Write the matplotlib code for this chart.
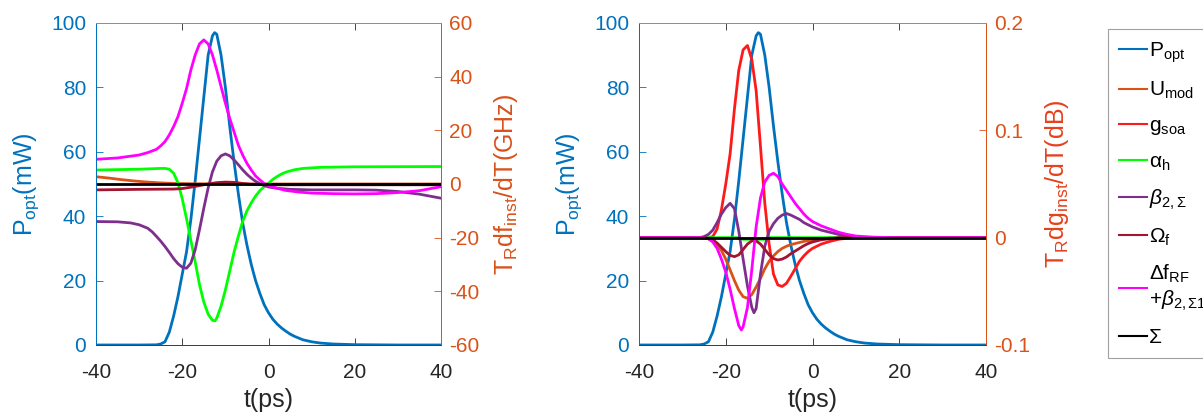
import matplotlib
matplotlib.use('Agg')
import matplotlib.pyplot as plt

plt.rcParams['font.family'] = ['Liberation Sans', 'DejaVu Sans']
plt.rcParams['mathtext.fontset'] = 'custom'
plt.rcParams['mathtext.rm'] = 'Liberation Sans'
plt.rcParams['mathtext.it'] = 'Liberation Sans:italic'
plt.rcParams['mathtext.bf'] = 'Liberation Sans:bold'
plt.rcParams['mathtext.sf'] = 'Liberation Sans'
plt.rcParams['axes.unicode_minus'] = False

# ---------------- data ----------------
# optical pulse power (mW), shared by both panels
t_p = [-40, -30, -26, -25, -24, -23, -22, -21, -20, -19, -18, -17, -16, -15, -14, -13, -12.5,
       -12, -11, -10, -9, -8, -7, -6, -5, -4, -3, -2, -1, 0, 1, 2, 3, 4, 5, 6, 8, 10, 12, 15, 20, 30, 40]
p_opt = [0, 0, 0.05, 0.3, 1, 4, 9, 15, 22, 29, 39, 51, 64, 77, 90, 96, 97,
         96.5, 90, 80, 68, 57, 47, 38, 31, 25, 20, 16, 12.5, 10, 8, 6.5, 5.3, 4.3, 3.4, 2.7, 1.6, 1.0, 0.6, 0.3, 0.1, 0, 0]

# left panel: T_R df_inst/dT (GHz)
t_l_umod = [-40, -37, -34, -31, -28, -25, -22, -18, -10, 40]
l_umod = [2.7, 2.2, 1.6, 1.1, 0.7, 0.4, 0.2, 0.1, 0.0, 0.0]

t_l_alpha = [-40, -30, -25, -24, -23, -22, -21, -20, -19, -18, -17, -16, -15, -14, -13, -12.4,
             -12, -11, -10, -9, -8, -7, -6, -5, -4, -3, -2, -1, 0, 1, 2, 3, 4, 6, 8, 12, 20, 40]
l_alpha = [5.2, 5.5, 5.8, 5.8, 5.5, 4.0, 0.5, -5.5, -13, -21, -29, -37.5, -44, -48.5, -50.8, -51,
           -50, -45.5, -39.5, -32.5, -25.5, -19.5, -14, -10, -7, -4.5, -2.5, -1, 0.3, 1.7, 2.8, 3.7, 4.4, 5.3, 5.8, 6.2, 6.4, 6.5]

t_l_beta = [-40, -35, -32, -30, -28, -27, -26, -25, -24, -23, -22, -21, -20, -19, -18, -17, -16, -15,
            -14, -13, -12, -11, -10, -9, -8, -7, -6, -5, -4, -3, -2, -1, 0, 2, 5, 10, 20, 25, 30, 35, 40]
l_beta = [-14.0, -14.1, -14.5, -15.2, -16.5, -17.8, -19.5, -21.3, -23.3, -25.5, -27.8, -29.7, -31.0, -31.4,
          -29.5, -24.5, -17, -9, -1.5, 4.5, 8.5, 10.5, 11.2, 10.5, 9.0, 7.2, 5.3, 3.6, 2.2, 1.0, 0.1, -0.6,
          -1.1, -1.6, -2.0, -2.2, -2.2, -2.3, -2.8, -3.8, -5.3]

t_l_omega = [-40, -30, -22, -20, -18, -16, -14, -12, -10, -8, -6, -4, 0, 40]
l_omega = [-2.2, -2.0, -1.9, -1.7, -1.2, -0.6, 0.0, 0.5, 0.7, 0.6, 0.2, -0.1, -0.3, -0.3]

t_l_df = [-40, -35, -30, -28, -26, -25, -24, -23, -22, -21, -20, -19, -18, -17, -16, -15, -14, -13,
          -12, -11, -10, -9, -8, -7, -6, -5, -4, -3, -2, -1, 0, 2, 4, 7, 10, 15, 20, 25, 30, 35, 40]
l_df = [9.2, 9.7, 10.8, 11.7, 12.9, 14.2, 15.8, 18.3, 21.4, 25.1, 30.1, 35.6, 42.5, 48.1, 52.2, 53.7,
        52.2, 48.1, 42.5, 36.3, 30.1, 24.5, 19.5, 14.5, 10.8, 7.7, 5.2, 3.0, 1.5, 0.2, -0.6, -1.6, -2.4,
        -3.0, -3.4, -3.6, -3.7, -3.6, -3.2, -2.5, -1.0]

t_l_sum = [-40, 40]
l_sum = [0.0, 0.0]

# right panel: T_R dg_inst/dT (dB)
t_r_umod = [-40, -25, -24, -23, -22, -21, -20, -19, -18, -17, -16, -15, -14, -13, -12, -11, -10,
            -9, -8, -7, -6, -5, -4, -2, 0, 2, 4, 40]
r_umod = [0, 0, -0.001, -0.003, -0.007, -0.012, -0.020, -0.030, -0.040, -0.049, -0.055, -0.0565,
          -0.053, -0.046, -0.038, -0.029, -0.022, -0.017, -0.013, -0.010, -0.008, -0.0065, -0.0055,
          -0.0035, -0.002, -0.001, 0, 0]

t_r_gsoa = [-40, -24, -23, -22, -21, -20, -19, -18, -17, -16, -15, -14, -13, -12, -11, -10, -9, -8,
            -7, -6, -5, -4, -3, -2, -1, 0, 2, 4, 6, 8, 10, 40]
r_gsoa = [0, 0, 0.001, 0.008, 0.026, 0.050, 0.078, 0.12, 0.156, 0.175, 0.179, 0.166, 0.137, 0.085,
          0.032, -0.006, -0.034, -0.044, -0.0455, -0.0425, -0.036, -0.029, -0.022, -0.017, -0.013,
          -0.010, -0.006, -0.0035, -0.0015, -0.0005, 0, 0]

t_r_alpha = [-40, -17, -16, -14, -12, -11, -10, 40]
r_alpha = [0, 0, -0.0015, -0.0015, -0.0015, -0.0015, 0, 0]

t_r_beta = [-40, -26, -25, -24, -23, -22, -21, -20, -19, -18, -17, -16, -15, -14, -13.5, -13, -12,
            -11, -10, -9, -8, -7, -6, -5, -4, -3, -2, -1, 0, 2, 4, 6, 8, 10, 12, 40]
r_beta = [0, 0, 0.001, 0.003, 0.007, 0.014, 0.022, 0.028, 0.032, 0.027, 0.006, -0.020, -0.045,
          -0.065, -0.070, -0.066, -0.034, -0.008, 0.006, 0.013, 0.018, 0.021, 0.0225, 0.021, 0.019,
          0.017, 0.014, 0.012, 0.010, 0.007, 0.005, 0.003, 0.0015, 0.0005, 0, 0]

t_r_omega = [-40, -25, -23, -22, -21, -20, -19, -18, -17, -16, -15, -14, -13, -12, -11, -10, -9, -8,
             -7, -6, -5, -4, -3, -2, -1, 0, 2, 4, 6, 40]
r_omega = [0, 0, -0.002, -0.005, -0.009, -0.013, -0.0165, -0.0177, -0.016, -0.011, -0.006, -0.003,
           -0.003, -0.006, -0.011, -0.016, -0.0195, -0.0208, -0.020, -0.018, -0.015, -0.0125, -0.010,
           -0.0075, -0.0055, -0.004, -0.002, -0.001, 0, 0]

t_r_df = [-40, -26, -24, -23, -22, -21, -20, -19, -18, -17, -16.4, -16, -15, -14, -13, -12, -11, -10,
          -9, -8, -7, -6, -5, -4, -3, -2, -1, 0, 2, 4, 6, 8, 10, 14, 18, 40]
r_df = [0, 0, -0.001, -0.004, -0.010, -0.020, -0.032, -0.048, -0.066, -0.082, -0.086, -0.083, -0.065,
        -0.030, 0.010, 0.037, 0.052, 0.058, 0.060, 0.057, 0.050, 0.044, 0.038, 0.032, 0.027, 0.022,
        0.018, 0.015, 0.011, 0.008, 0.005, 0.003, 0.0015, 0.0005, 0, 0]

t_r_sum = [-40, 40]
r_sum = [0.0, 0.0]

labels = [r'P$_{\mathrm{opt}}$', r'U$_{\mathrm{mod}}$', r'g$_{\mathrm{soa}}$', 'α$_{\\mathrm{h}}$',
          r'$\beta_{2,\Sigma}$', 'Ω$_{\\mathrm{f}}$',
          'Δf$_{\\mathrm{RF}}$\n+$\\beta_{2,\\Sigma 1}$', 'Σ']
x_ticks = [-40, -20, 0, 20, 40]
p_ticks = [0, 20, 40, 60, 80, 100]
ghz_ticks = [-60, -40, -20, 0, 20, 40, 60]
db_ticks = [-0.1, 0, 0.1, 0.2]

# ---------------- style ----------------
C_BLUE = '#0072BD'
C_ORANGE = '#D95319'
C_GSOA = '#FF1A1A'
C_GREEN = '#00FF00'
C_PURPLE = '#7E2F8E'
C_DRED = '#A2142F'
C_MAG = '#FF00FF'
C_BLACK = '#000000'
LW = 2.0
TICK_FS = 15
LAB_FS = 18

fig = plt.figure(figsize=(12.03, 4.20), dpi=100)


def style(ax, axr, rlabel, rticks, rlim, rlabel_color):
    ax.set_xlim(-40, 40)
    ax.set_ylim(0, 100)
    ax.set_xticks(x_ticks)
    ax.set_yticks(p_ticks)
    axr.set_ylim(*rlim)
    axr.set_yticks(rticks)
    axr.set_yticklabels([('%g' % v) for v in rticks])
    ax.tick_params(axis='x', direction='in', length=5, width=0.6, colors='#262626',
                   labelsize=TICK_FS, top=True, pad=13)
    ax.tick_params(axis='y', direction='in', length=5, width=0.6, colors=C_BLUE,
                   labelsize=TICK_FS, pad=7)
    axr.tick_params(axis='y', direction='in', length=5, width=0.6, colors=C_ORANGE,
                    labelsize=TICK_FS, pad=6)
    for a in (ax, axr):
        a.spines['top'].set_color('#909090')
        a.spines['bottom'].set_color('#404040')
        a.spines['left'].set_color(C_BLUE)
        a.spines['right'].set_color(C_ORANGE)
        for s in a.spines.values():
            s.set_linewidth(0.7)
    ax.set_xlabel('t(ps)', fontsize=LAB_FS, color='#262626', labelpad=4)
    ax.set_ylabel(r'P$_{\mathrm{opt}}$(mW)', fontsize=LAB_FS, color=C_BLUE, labelpad=7)
    axr.set_ylabel(rlabel, fontsize=LAB_FS, color=rlabel_color, labelpad=9)


# left panel
ax1 = fig.add_axes([0.0798, 0.1786, 0.2868, 0.7667])
ax2 = ax1.twinx()
ax1.plot(t_p, p_opt, color=C_BLUE, lw=LW)
ax2.plot(t_l_umod, l_umod, color=C_ORANGE, lw=LW)
ax2.plot(t_l_alpha, l_alpha, color=C_GREEN, lw=LW)
ax2.plot(t_l_beta, l_beta, color=C_PURPLE, lw=LW)
ax2.plot(t_l_omega, l_omega, color=C_DRED, lw=LW)
ax2.plot(t_l_df, l_df, color=C_MAG, lw=LW)
ax2.plot(t_l_sum, l_sum, color=C_BLACK, lw=LW)
style(ax1, ax2, r'T$_{\mathrm{R}}$df$_{\mathrm{inst}}$/dT(GHz)', ghz_ticks, (-60, 60), '#D9501A')

# right panel
ax3 = fig.add_axes([0.5312, 0.1786, 0.2884, 0.7667])
ax4 = ax3.twinx()
h = []
h += ax3.plot(t_p, p_opt, color=C_BLUE, lw=LW)
h += ax4.plot(t_r_umod, r_umod, color=C_ORANGE, lw=LW)
h += ax4.plot(t_r_gsoa, r_gsoa, color=C_GSOA, lw=LW)
h += ax4.plot(t_r_alpha, r_alpha, color=C_GREEN, lw=LW)
h += ax4.plot(t_r_beta, r_beta, color=C_PURPLE, lw=LW)
h += ax4.plot(t_r_omega, r_omega, color=C_DRED, lw=LW)
h += ax4.plot(t_r_df, r_df, color=C_MAG, lw=LW)
h += ax4.plot(t_r_sum, r_sum, color=C_BLACK, lw=LW)
style(ax3, ax4, r'T$_{\mathrm{R}}$dg$_{\mathrm{inst}}$/dT(dB)', db_ticks, (-0.1, 0.2), '#E5401C')

leg = fig.legend(h, labels, loc='upper left', bbox_to_anchor=(0.921, 0.931),
                 borderaxespad=0, fontsize=15, handlelength=1.3, handletextpad=0.1,
                 labelspacing=0.72, frameon=True, fancybox=False, borderpad=0.55)
leg.get_frame().set_edgecolor('#8a8a8a')
leg.get_frame().set_linewidth(0.8)
for ln in leg.get_lines():
    ln.set_linewidth(1.5)

fig.savefig('out.png', dpi=100)
